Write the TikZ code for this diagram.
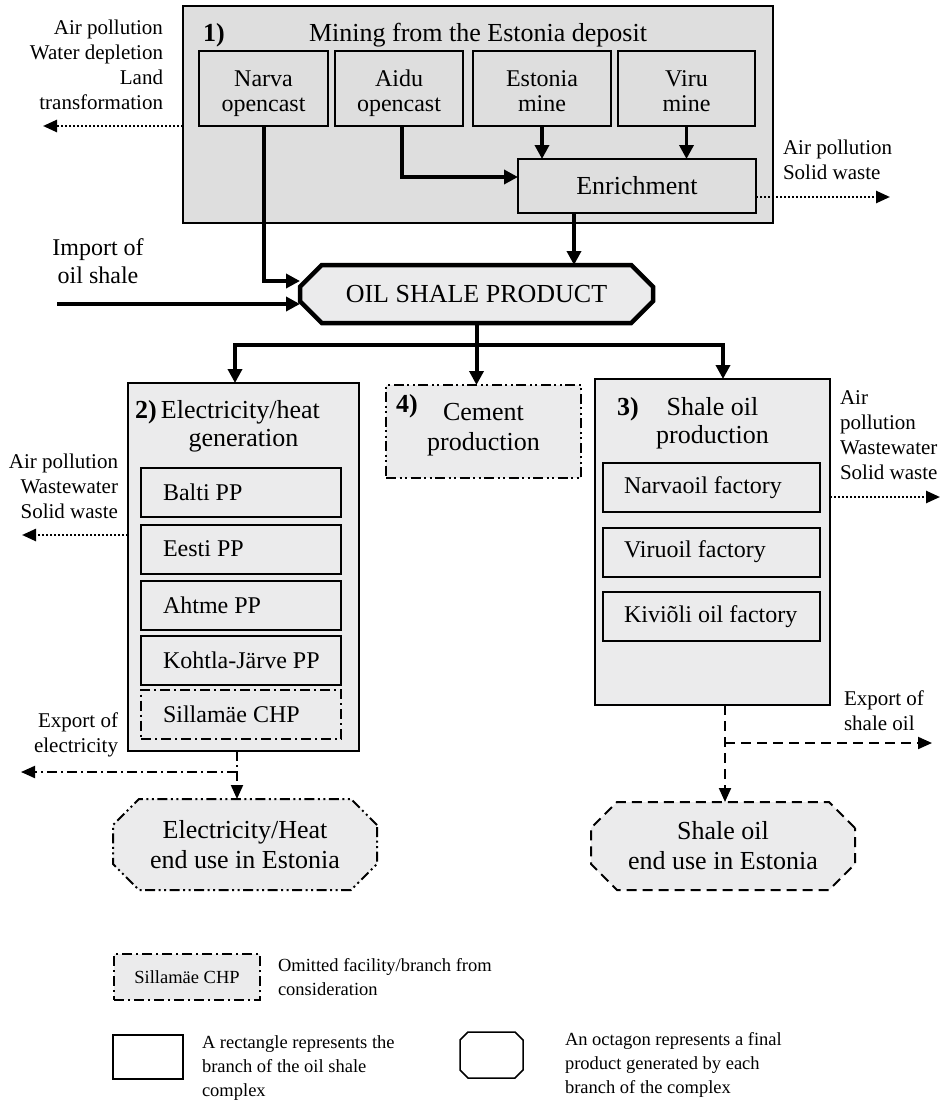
\documentclass[tikz,border=0pt]{standalone}
\usepackage{fontspec}
\setmainfont{Liberation Serif}
\usetikzlibrary{arrows.meta,shapes.misc}

\definecolor{boxfill}{HTML}{EBEBEC}
\definecolor{minefill}{HTML}{DEDEDE}

% left-set text inside a fixed-width slot
\newcommand\slot[2]{\makebox[#1][l]{#2}}

\tikzset{
  every node/.style={inner sep=0pt, outer sep=0pt},
  fmain/.style={font=\fontsize{26}{30}\selectfont},
  fsub/.style={font=\fontsize{24}{28}\selectfont},
  fside/.style={font=\fontsize{21}{25}\selectfont},
  flegend/.style={font=\fontsize{18.5}{24}\selectfont},
  branch/.style={draw, rectangle, line width=2pt, fill=boxfill},
  mineunit/.style={draw, rectangle, line width=2pt, fill=minefill, minimum height=75pt},
  plant/.style={draw, rectangle, line width=2pt, fill=boxfill,
    minimum width=200pt, minimum height=49pt, fsub},
  factory/.style={draw, rectangle, line width=2pt, fill=boxfill,
    minimum width=217pt, minimum height=49pt, fsub},
  octo/.style={draw, chamfered rectangle, chamfered rectangle xsep=13pt,
    chamfered rectangle ysep=13pt, line width=2pt, fill=boxfill, align=center},
  dashdot/.style={dash pattern=on 10pt off 4pt on 2pt off 4pt},
  dashdotdot/.style={dash pattern=on 10pt off 3.5pt on 2pt off 3.5pt on 2pt off 3.5pt},
  longdash/.style={dash pattern=on 10pt off 6pt},
  dotline/.style={dash pattern=on 2pt off 2pt},
  tip/.style={-{Triangle[length=14pt,width=14pt]}},
  main/.style={line width=4pt, tip, line join=miter},
  sub/.style={line width=3.5pt, tip, line join=miter},
  dotflow/.style={line width=2.5pt, dotline, -{Triangle[length=14pt,width=12pt]}},
  flowdd/.style={line width=2pt, dashdot, -{Triangle[length=14pt,width=12pt]}},
  flowd/.style={line width=2pt, longdash, -{Triangle[length=14pt,width=12pt]}},
}

\begin{document}
\begin{tikzpicture}[x=1pt, y=-1pt]
\useasboundingbox (0,0) rectangle (945,1103);

% ---------- 1) Mining ----------
\node[branch, fill=minefill, minimum width=590pt, minimum height=217pt] (mining) at (478,114.5) {};
\node[fmain, anchor=base] (minetitle) at (478,41) {Mining from the Estonia deposit};
\node[fmain, anchor=base west] (minenum) at (203,41) {\bfseries 1)};

\node[mineunit, minimum width=129pt] (narva) at (263.5,88.5) {};
\node[mineunit, minimum width=128pt] (aidu) at (399,88.5) {};
\node[mineunit, minimum width=138pt] (estonia) at (542,88.5) {};
\node[mineunit, minimum width=137pt] (viru) at (686.5,88.5) {};
\node[fsub, anchor=base] (narvaA) at (narva |- 0,86) {Narva};
\node[fsub, anchor=base] (narvaB) at (narva |- 0,111) {opencast};
\node[fsub, anchor=base] (aiduA) at (aidu |- 0,86) {Aidu};
\node[fsub, anchor=base] (aiduB) at (aidu |- 0,111) {opencast};
\node[fsub, anchor=base] (estoniaA) at (estonia |- 0,86) {Estonia};
\node[fsub, anchor=base] (estoniaB) at (estonia |- 0,111) {mine};
\node[fsub, anchor=base] (viruA) at (viru |- 0,86) {Viru};
\node[fsub, anchor=base] (viruB) at (viru |- 0,111) {mine};
\node[draw, rectangle, line width=2pt, fill=minefill, fmain, minimum width=238pt, minimum height=54pt]
  (enrich) at (637,186) {Enrichment};

\node[fside, align=right, anchor=east] (minepolltxt) at (163,64.5)
  {Air pollution\\Water depletion\\Land\\transformation};
\node[fside, align=left, anchor=west] (enrichpolltxt) at (783,159.5) {Air pollution\\Solid waste};
\coordinate (minepoll) at (43,126);
\coordinate (enrichpoll) at (890,197);

% ---------- oil shale product ----------
\node[octo, fmain, line width=4.5pt, minimum width=353pt, minimum height=58pt] (osp) at (476.5,294)
  {OIL SHALE PRODUCT};
\node[fsub, align=center] (imptxt) at (98,261) {Import of\\oil shale};
\coordinate (imp) at (57,304);
\coordinate (split) at (476.5,345);

% ---------- 2) Electricity/heat ----------
\node[branch, minimum width=231pt, minimum height=368pt] (elec) at (243.5,567) {};
\node[fmain, anchor=base west] (electitle) at (135,418) {\textbf{2)}\,Electricity/heat};
\node[fmain, anchor=base] (elecgen) at (243.5,446) {generation};
\node[plant] (balti) at (241,492) {\slot{156pt}{Balti PP}};
\node[plant] (eesti) at (241,549) {\slot{156pt}{Eesti PP}};
\node[plant] (ahtme) at (241,605) {\slot{156pt}{Ahtme PP}};
\node[plant] (kohtla) at (241,660) {\slot{156pt}{Kohtla-Järve PP}};
\node[plant, dashdot] (sillamae) at (241,714) {\slot{156pt}{Sillamäe CHP}};
\node[fside, align=right, anchor=east] (elecpolltxt) at (118,486) {Air pollution\\Wastewater\\Solid waste};
\coordinate (elecpoll) at (22,535);
\node[fside, align=right, anchor=east] (elexptxt) at (118,734.5) {Export of\\electricity};
\coordinate (elsplit) at (237,772);
\coordinate (elexp) at (21,772);

% ---------- 4) Cement ----------
\node[branch, dashdotdot, minimum width=195pt, minimum height=93pt] (cement) at (483.5,431.5) {};
\node[fmain, anchor=base west] (cemnum) at (396,412) {\bfseries 4)};
\node[fmain, anchor=base] (cemA) at (483.5,420) {Cement};
\node[fmain, anchor=base] (cemB) at (483.5,450) {production};

% ---------- 3) Shale oil ----------
\node[branch, minimum width=235pt, minimum height=326pt] (oil) at (712.5,542) {};
\node[fmain, anchor=base west] (oilnum) at (617,415) {\bfseries 3)};
\node[fmain, anchor=base] (oiltitle) at (712.5,415) {Shale oil};
\node[fmain, anchor=base] (oilprod) at (712.5,443) {production};
\node[factory] (narvaoil) at (711.5,487.5) {\slot{175pt}{Narvaoil factory}};
\node[factory] (viruoil) at (711.5,552) {\slot{175pt}{Viruoil factory}};
\node[factory] (kivioli) at (711.5,616.5) {\slot{175pt}{Kiviõli oil factory}};
\node[fside, align=left, anchor=west] (oilpolltxt) at (840,435.5) {Air\\pollution\\Wastewater\\Solid waste};
\coordinate (oilpoll) at (940,497);
\node[fside, align=left, anchor=west] (oilexptxt) at (844,710.5) {Export of\\shale oil};
\coordinate (oilsplit) at (725,743);
\coordinate (oilexp) at (932,743);

% ---------- final products ----------
\node[octo, fmain, dashdotdot, minimum width=264pt, minimum height=91pt] (eleuse) at (245,844.5)
  {Electricity/Heat\\end use in Estonia};
\node[octo, fmain, longdash, minimum width=264pt, minimum height=88pt] (oiluse) at (723,846)
  {Shale oil\\end use in Estonia};

% ---------- connectors ----------
\draw[main] (narva.south) |- ([yshift=13pt]osp.west);
\draw[main] (imp) -- ([yshift=-10pt]osp.west);
\draw[sub] ([xshift=3pt]aidu.south) |- ([yshift=9pt]enrich.west);
\draw[sub] (estonia.south) -- (estonia.south |- enrich.north);
\draw[sub] (viru.south) -- (viru.south |- enrich.north);
\draw[sub] ([xshift=-63pt]enrich.south) -- ([xshift=-63pt]enrich.south |- osp.north);
\draw[dotflow] (mining.west |- narva.south) -- (minepoll);
\draw[dotflow] ([yshift=-11pt]enrich.east) -- (enrichpoll);

\draw[main] (osp.south) -- (osp.south |- cement.north);
\draw[main] (split) -| ([xshift=-8.5pt]elec.north);
\draw[main] (split) -| ([xshift=10.5pt]oil.north);

\draw[dotflow] ([yshift=32pt]elec.west) -- (elecpoll);
\draw[dotflow] ([yshift=45pt]oil.east) -- (oilpoll);

\draw[flowdd] ([xshift=-6.5pt]elec.south) -- ([xshift=-8pt]eleuse.north);
\draw[flowdd] (elsplit) -- (elexp);
\draw[flowd] ([xshift=12.5pt]oil.south) -- ([xshift=2pt]oiluse.north);
\draw[flowd] (oilsplit) -- (oilexp);

% ---------- legend ----------
\node[draw, rectangle, line width=1.5pt, fill=boxfill, dashdot, minimum width=146pt,
  minimum height=46pt, flegend] (legomit) at (187,977) {Sillamäe CHP};
\node[flegend, align=left, anchor=west] (legomittxt) at (278,977)
  {Omitted facility/branch from\\consideration};
\node[draw, rectangle, line width=1.5pt, fill=white, minimum width=70pt, minimum height=44pt]
  (legrect) at (148,1057) {};
\node[flegend, align=left, anchor=west] (legrecttxt) at (202,1068)
  {A rectangle represents the\\branch of the oil shale\\complex};
\node[rectangle, minimum width=63pt, minimum height=46pt] (legoct) at (491.5,1055) {};
\draw[line width=1.5pt]
  ([xshift=8pt]legoct.north west) -- ([xshift=-8pt]legoct.north east)
  -- ([yshift=-8pt]legoct.north east) -- ([yshift=8pt]legoct.south east)
  -- ([xshift=-8pt]legoct.south east) -- ([xshift=8pt]legoct.south west)
  -- ([yshift=8pt]legoct.south west) -- ([yshift=-8pt]legoct.north west) -- cycle;
\node[flegend, align=left, anchor=west] (legocttxt) at (565,1065)
  {An octagon represents a final\\product generated by each\\branch of the complex};
\end{tikzpicture}
\end{document}
